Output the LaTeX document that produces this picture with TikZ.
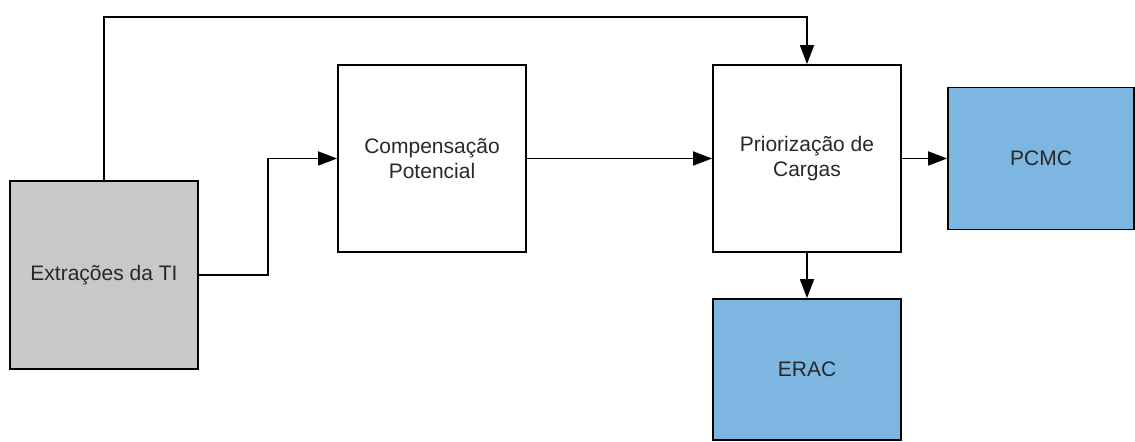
\documentclass[tikz,border=0pt]{standalone}
\usepackage{fontspec}
\setmainfont{Liberation Sans}
\usetikzlibrary{arrows.meta}
\definecolor{boxgray}{RGB}{200,200,200}
\definecolor{boxblue}{RGB}{126,182,226}
\definecolor{txtgray}{RGB}{40,40,40}
\begin{document}
\begin{tikzpicture}[x=0.5pt,y=-0.5pt,
  blk/.style={draw, line width=0.9pt, align=center, text=txtgray, inner sep=0pt},
  arr/.style={line width=0.9pt, -{Triangle[length=9.5pt,width=7pt]}}]
\fontsize{10.5}{12.5}\selectfont
\useasboundingbox (0,0) rectangle (1135,442);
\node[blk, fill=boxgray, minimum width=94pt, minimum height=94pt] (ext) at (104,275) {Extrações da TI};
\node[blk, minimum width=94pt, minimum height=93.5pt] (comp) at (432,158.5) {Compensação\\Potencial};
\node[blk, minimum width=94pt, minimum height=93.5pt] (prio) at (807,158.5) {Priorização de\\Cargas};
\node[blk, fill=boxblue, minimum width=93pt, minimum height=71pt] (pcmc) at (1041,158.5) {PCMC};
\node[blk, fill=boxblue, minimum width=94pt, minimum height=70.5pt] (erac) at (807,369.5) {ERAC};

\coordinate (top) at (807,17);
\coordinate (bend) at (268,275);

\path[draw,arr] (ext.north) |- (top) -- (prio.north);
\path[draw,arr] (ext.east) -- (bend) |- (comp.west);
\path[draw,arr] (comp.east) -- (prio.west);
\path[draw,arr] (prio.east) -- (pcmc.west);
\path[draw,arr] (prio.south) -- (erac.north);
\end{tikzpicture}
\end{document}
